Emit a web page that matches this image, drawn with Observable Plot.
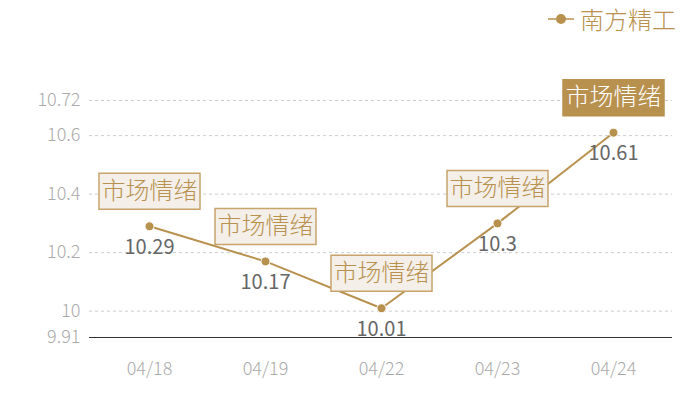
<!DOCTYPE html>
<html>
<head>
<meta charset="utf-8">
<script src="https://cdn.jsdelivr.net/npm/d3@7"></script>
<script src="https://cdn.jsdelivr.net/npm/@observablehq/plot@0.6"></script>
<style>
  body { margin: 0; background: #fff; font-family: "Noto Sans CJK SC", "Noto Sans", sans-serif; }
  #wrap { position: relative; width: 700px; height: 400px; }
  #legend { position: absolute; right: 24px; top: 1px; display: flex; align-items: center; color: #b8914f; font-size: 24px; font-weight: 300; }
  #legend svg { margin-right: 6px; }
</style>
</head>
<body>
<div id="wrap">
  <div id="chart"></div>
  <div id="legend"><svg width="26" height="12"><line x1="0" y1="6" x2="26" y2="6" stroke="#b8914f" stroke-width="1.5"/><circle cx="13" cy="6" r="5" fill="#b8914f"/></svg><span>南方精工</span></div>
</div>
<script>
const seriesName = "南方精工";
const dates = ["04/18", "04/19", "04/22", "04/23", "04/24"];
const values = [10.29, 10.17, 10.01, 10.3, 10.61];
const boxLabels = ["市场情绪", "市场情绪", "市场情绪", "市场情绪", "市场情绪"];
const highlighted = [false, false, false, false, true];
const yTicks = [9.91, 10, 10.2, 10.4, 10.6, 10.72];

const data = dates.map((d, i) => ({date: d, value: values[i], box: boxLabels[i], hi: highlighted[i]}));

const gold = "#b8914f";
const boxSymbol = {
  draw(context) {
    const w = 101, h = 36;
    context.moveTo(-w / 2, -h / 2);
    context.lineTo(w / 2, -h / 2);
    context.lineTo(w / 2, h / 2);
    context.lineTo(-w / 2, h / 2);
    context.closePath();
  }
};

const chart = Plot.plot({
  width: 700,
  height: 400,
  marginLeft: 89,
  marginRight: 28,
  marginTop: 100,
  marginBottom: 63,
  style: {fontFamily: "'Noto Sans CJK SC', 'Noto Sans', sans-serif", background: "#fff", fontWeight: 300},
  x: {type: "point", domain: dates, padding: 0.5, label: null},
  y: {domain: [9.91, 10.72], label: null},
  marks: [
    Plot.ruleY(yTicks.filter(t => t > 9.91), {stroke: "#cccccc", strokeDasharray: "3,3", strokeWidth: 1}),
    Plot.ruleY([9.91], {stroke: "#333", strokeWidth: 1.2}),
    Plot.axisY({ticks: yTicks, tickSize: 0, tickPadding: 9, fontSize: 18, fill: "#aaaaaa", tickFormat: d => String(d), label: null}),
    Plot.axisX({tickSize: 0, tickPadding: 25, fontSize: 18, fill: "#aaaaaa", label: null}),
    Plot.line(data, {x: "date", y: "value", stroke: gold, strokeWidth: 2}),
    Plot.dot(data, {x: "date", y: "value", r: 4.5, fill: gold, stroke: "#fff", strokeWidth: 1}),
    Plot.text(data, {x: "date", y: "value", text: d => String(d.value), dy: 21, fontSize: 20, fontWeight: 400, fill: "#666666"}),
    Plot.dot(data, {x: "date", y: "value", dy: -35, symbol: boxSymbol, r: 10,
      fill: d => d.hi ? gold : "#f4efe9", stroke: d => d.hi ? gold : "#c8a46c", strokeWidth: 1.5}),
    Plot.text(data, {x: "date", y: "value", text: "box", dy: -35, fontSize: 24,
      fill: d => d.hi ? "#ffffff" : "#b8914f"})
  ]
});
document.getElementById("chart").appendChild(chart);
</script>
</body>
</html>
